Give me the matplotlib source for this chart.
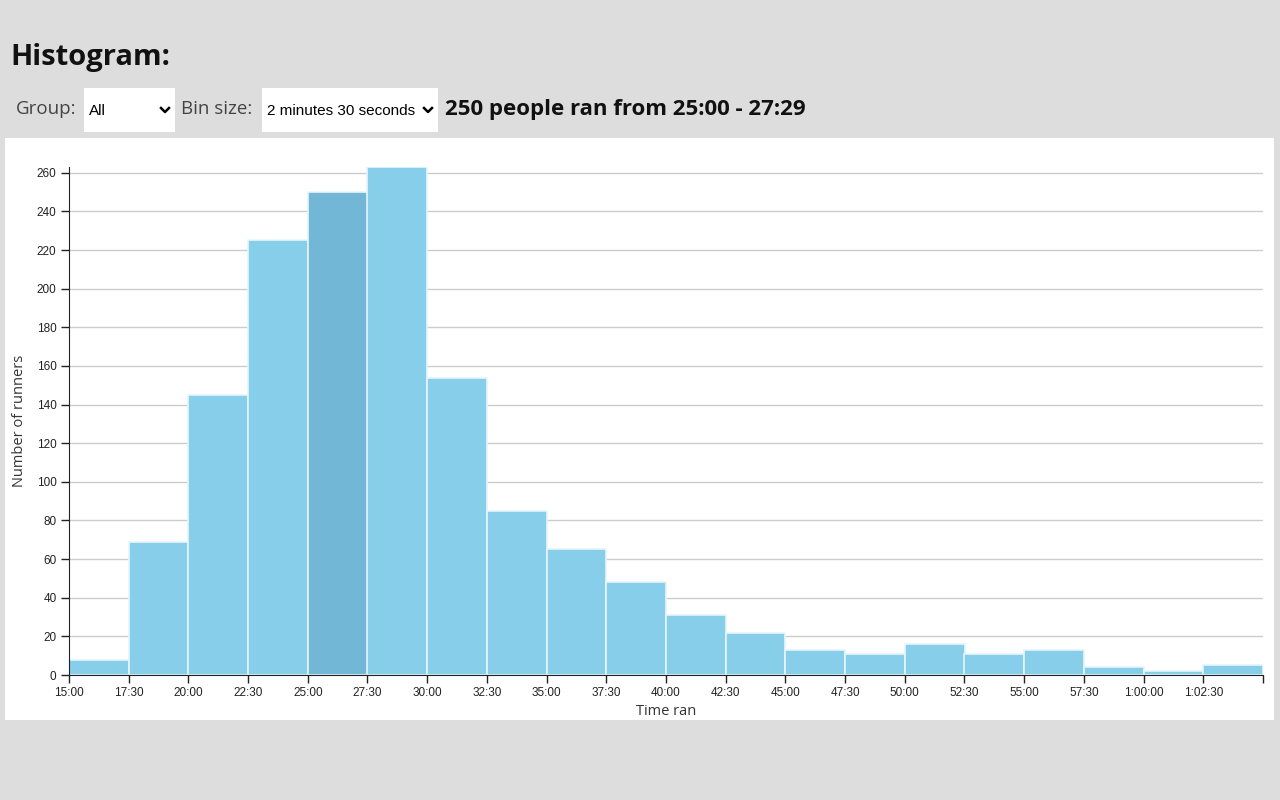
import matplotlib
matplotlib.use("Agg")
import matplotlib.pyplot as plt
from matplotlib.patches import Rectangle
from matplotlib.lines import Line2D

# ---- data ----
bin_starts_sec = [900, 1050, 1200, 1350, 1500, 1650, 1800, 1950, 2100, 2250,
                  2400, 2550, 2700, 2850, 3000, 3150, 3300, 3450, 3600, 3750]
bin_width_sec = 150
counts = [8, 69, 145, 225, 250, 263, 154, 85, 65, 48,
          31, 22, 13, 11, 16, 11, 13, 4, 2, 5]
highlight_index = 4
tick_labels = ["15:00", "17:30", "20:00", "22:30", "25:00", "27:30", "30:00",
               "32:30", "35:00", "37:30", "40:00", "42:30", "45:00", "47:30",
               "50:00", "52:30", "55:00", "57:30", "1:00:00", "1:02:30"]
y_ticks = [0, 20, 40, 60, 80, 100, 120, 140, 160, 180, 200, 220, 240, 260]

W, H = 1280, 800
fig = plt.figure(figsize=(12.8, 8), dpi=100)
fig.patch.set_facecolor("#dddddd")

def fx(px):
    return px / W

def fy(py):
    return 1 - py / H

# white panel
fig.patches.append(Rectangle((fx(5), fy(720)), fx(1274) - fx(5), fy(138) - fy(720),
                             transform=fig.transFigure, facecolor="white",
                             edgecolor="none", zorder=-5))

head_font = ["Open Sans", "DejaVu Sans"]
fig.text(fx(10), fy(57), "Histogram:", fontsize=21, fontweight="bold",
         family=head_font, color="#111111", va="center", ha="left")
fig.text(fx(16), fy(109), "Group:", fontsize=13.5, family=head_font,
         color="#444444", va="center", ha="left")
fig.text(fx(181), fy(109), "Bin size:", fontsize=13.5, family=head_font,
         color="#444444", va="center", ha="left")

def select_box(x0, x1, label):
    fig.patches.append(Rectangle((fx(x0), fy(132)), fx(x1) - fx(x0), fy(88) - fy(132),
                                 transform=fig.transFigure, facecolor="white",
                                 edgecolor="none", zorder=1))
    fig.text(fx(x0 + 5), fy(111), label, fontsize=11, family=["Liberation Sans"],
             color="black", va="center", ha="left")
    cx = x1 - 10
    fig.lines.append(Line2D([fx(cx - 4), fx(cx), fx(cx + 4)],
                            [fy(108), fy(112), fy(108)],
                            transform=fig.transFigure, color="black", lw=1.8))

select_box(84, 175, "All")
select_box(262, 438, "2 minutes 30 seconds")

fig.text(fx(445), fy(110), "250 people ran from 25:00 - 27:29", fontsize=16,
         fontweight="bold", family=head_font, color="#111111", va="center", ha="left")

# ---- axes ----
ax_left, ax_right, ax_top, ax_bottom = 69, 1263, 167, 675
ax = fig.add_axes([fx(ax_left), fy(ax_bottom), fx(ax_right) - fx(ax_left),
                   fy(ax_top) - fy(ax_bottom)])
ax.set_zorder(5)
ax.set_facecolor("white")

colors = ["#87ceeb"] * len(counts)
colors[highlight_index] = "#72b8d6"
ax.bar(bin_starts_sec, counts, width=bin_width_sec, align="edge", color=colors,
       edgecolor="#e6f5fb", linewidth=1.2, zorder=2)

xmin = bin_starts_sec[0]
xmax = bin_starts_sec[-1] + bin_width_sec
ax.set_xlim(xmin, xmax)
ax.set_ylim(0, max(counts))

ax.set_xticks(bin_starts_sec + [xmax])
ax.set_xticklabels(tick_labels + [""], fontsize=8.5, family="Liberation Sans",
                   color="#222222")
ax.set_yticks(y_ticks)
ax.set_yticklabels([str(v) for v in y_ticks], fontsize=8.5, family="Liberation Sans",
                   color="#222222")
ax.tick_params(axis="both", length=6, width=1, color="#222222", pad=3)

ax.yaxis.grid(True, color="#cccccc", linewidth=1, zorder=0)
ax.set_axisbelow(True)

for s in ["top", "right"]:
    ax.spines[s].set_visible(False)
ax.spines["left"].set_color("#222222")
ax.spines["bottom"].set_color("#222222")

ax.set_xlabel("Time ran", fontsize=10.5, family=head_font, color="#333333", labelpad=3)
ax.set_ylabel("Number of runners", fontsize=10.5, family=head_font, color="#333333",
              labelpad=7)

fig.savefig("out.png", dpi=100, facecolor=fig.get_facecolor())
